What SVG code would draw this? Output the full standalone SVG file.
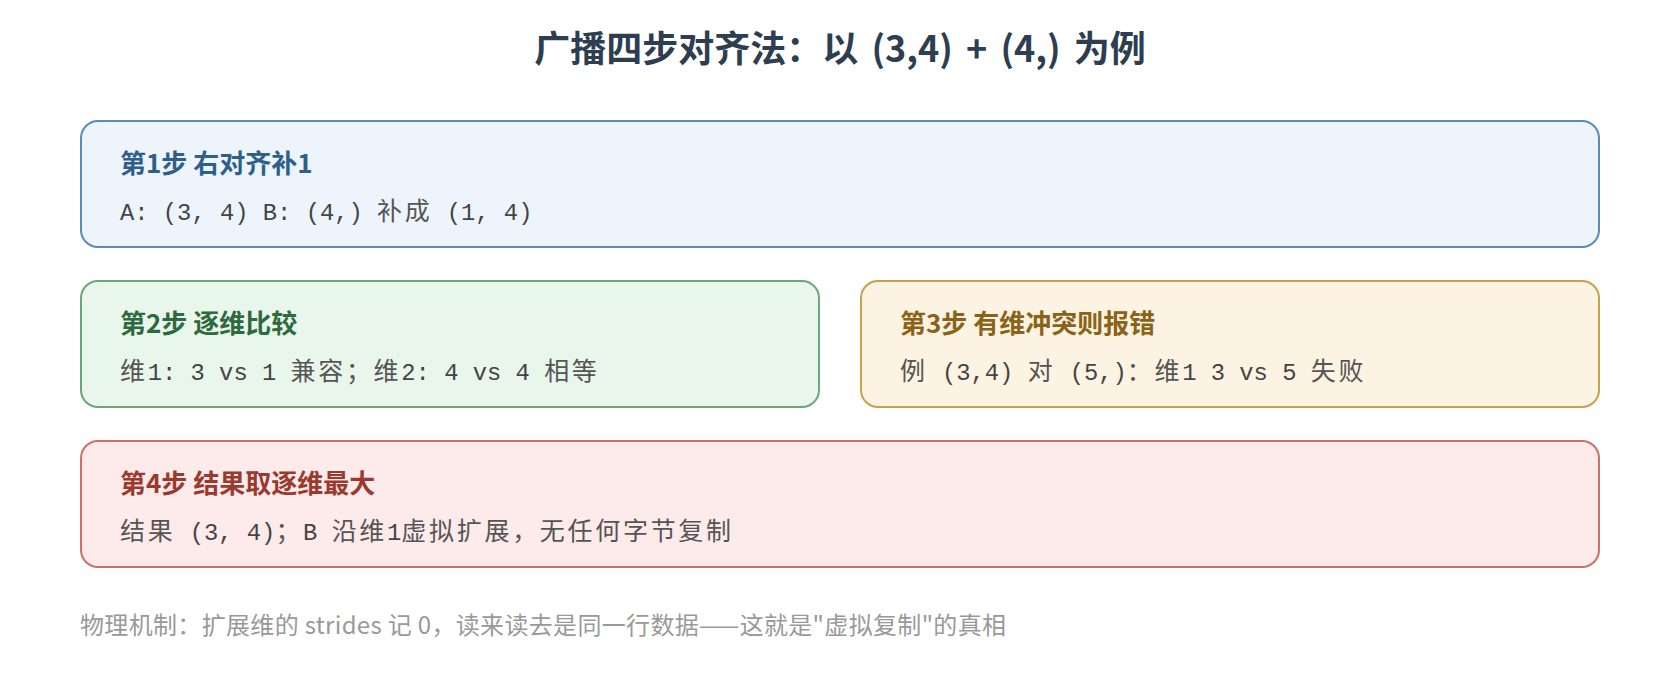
<svg xmlns="http://www.w3.org/2000/svg" width="1680" height="700" viewBox="0 0 1680 700">
<style>
.title{font-family:"Noto Sans CJK SC","Noto Sans",sans-serif;font-size:36px;font-weight:bold;fill:#2c3e50;word-spacing:5px}
.hd{font-family:"Noto Sans CJK SC","Noto Sans",sans-serif;font-size:26px;font-weight:bold}
.bd{font-family:"Liberation Mono","Noto Sans CJK SC",monospace;font-size:23.8px;letter-spacing:0px;fill:#444}
.bd .c{font-family:"Noto Sans CJK SC",sans-serif;font-size:25px;letter-spacing:2.7px;fill:#555}
.ft{font-family:"Noto Sans CJK SC","Noto Sans",sans-serif;font-size:24px;letter-spacing:0.33px;fill:#999}
.box{stroke-width:2}
</style>
<rect width="1680" height="700" fill="#ffffff"/>
<text class="title" x="840" y="62" text-anchor="middle">广播四步对齐法：以 (3,4) + (4,) 为例</text>
<g id="step1">
<rect class="box" x="81" y="121" width="1518" height="126" rx="17" fill="#edf4fc" stroke="#5b8abb"/>
<text class="hd" x="120" y="173" fill="#2e5f8a">第1步 右对齐补1</text>
<text class="bd" x="120" y="220">A: (3, 4) B: (4,) <tspan class="c">补成</tspan> (1, 4)</text>
</g>
<g id="step2">
<rect class="box" x="81" y="281" width="738" height="126" rx="17" fill="#e9f6ec" stroke="#6aa87a"/>
<text class="hd" x="120" y="333" fill="#2d6a3e">第2步 逐维比较</text>
<text class="bd" x="120" y="380"><tspan class="c">维</tspan>1: 3 vs 1 <tspan class="c">兼容；维</tspan>2: 4 vs 4 <tspan class="c">相等</tspan></text>
</g>
<g id="step3">
<rect class="box" x="861" y="281" width="738" height="126" rx="17" fill="#fdf3e2" stroke="#c9a04e"/>
<text class="hd" x="900" y="333" fill="#8a6218">第3步 有维冲突则报错</text>
<text class="bd" x="900" y="380"><tspan class="c">例</tspan> (3,4) <tspan class="c">对</tspan> (5,)<tspan class="c">：维</tspan>1 3 vs 5 <tspan class="c">失败</tspan></text>
</g>
<g id="step4">
<rect class="box" x="81" y="441" width="1518" height="126" rx="17" fill="#fdeaea" stroke="#cc7068"/>
<text class="hd" x="120" y="493" fill="#9a3a2e">第4步 结果取逐维最大</text>
<text class="bd" x="120" y="540"><tspan class="c">结果</tspan> (3, 4)<tspan class="c">；</tspan>B <tspan class="c">沿维</tspan>1<tspan class="c">虚拟扩展，无任何字节复制</tspan></text>
</g>
<g id="connectors"></g>
<text class="ft" x="80" y="634">物理机制：扩展维的 strides 记 0，读来读去是同一行数据——这就是"虚拟复制"的真相</text>
</svg>
